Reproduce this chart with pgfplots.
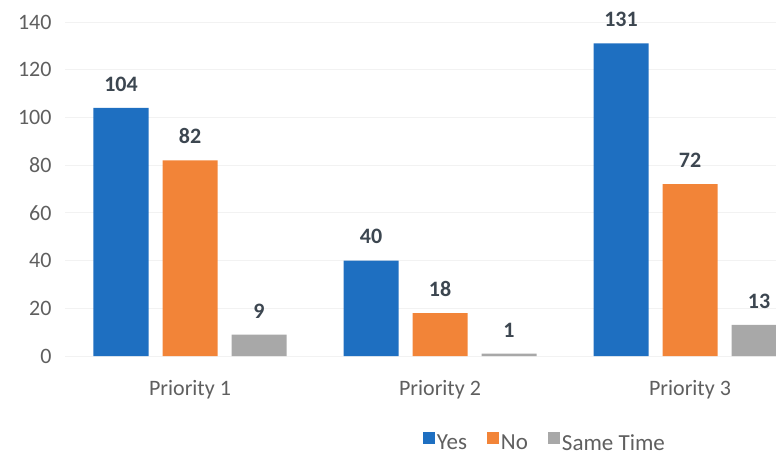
\documentclass[border=0pt]{standalone}
\usepackage{pgfplots}
\pgfplotsset{compat=1.18}
\usepackage{fontspec}
\setmainfont{Carlito}
\definecolor{cYes}{HTML}{1E6FC1}
\definecolor{cNo}{HTML}{F28438}
\definecolor{cSame}{HTML}{A8A8A8}
\definecolor{tickc}{HTML}{5F5F5F}
\definecolor{labc}{HTML}{3C4650}
\begin{document}
\begin{tikzpicture}
\begin{axis}[
  scale only axis,
  width=711pt, height=334pt,
  ybar=14pt,
  bar width=0.22,
  xmin=-0.5, xmax=2.344,
  ymin=0, ymax=140,
  ytick={0,20,...,140},
  xtick={0,1,2},
  xticklabels={Priority 1,Priority 2,Priority 3},
  axis line style={draw=none},
  major tick style={draw=none},
  ymajorgrids,
  grid style={draw=gray!10, line width=0.8pt},
  /pgf/number format/assume math mode=true,
  tick label style={font=\fontsize{22}{26}\selectfont, text=tickc},
  yticklabel style={xshift=-10pt},
  xticklabel style={yshift=-17pt},
  clip=false,
  nodes near coords,
  nodes near coords style={font=\fontsize{22}{26}\selectfont\bfseries, text=labc, anchor=south, yshift=13pt},
  legend columns=3,
  legend style={draw=none, at={(0.675,-0.26)}, anchor=center, font=\fontsize{23}{27}\selectfont, text=tickc,
    /tikz/every even column/.append style={column sep=18pt}},
  legend image code/.code={\fill[#1] (0pt,-1pt) rectangle (12pt,11pt);},
]
\addplot[fill=cYes, draw=none] coordinates {(0,104) (1,40) (2,131)};
\addplot[fill=cNo, draw=none] coordinates {(0,82) (1,18) (2,72)};
\addplot[fill=cSame, draw=none] coordinates {(0,9) (1,1) (2,13)};
\legend{Yes,No,Same Time}
\end{axis}
\pgfresetboundingbox
\useasboundingbox (-65pt,-100pt) rectangle (711pt,356pt);
\end{tikzpicture}
\end{document}
